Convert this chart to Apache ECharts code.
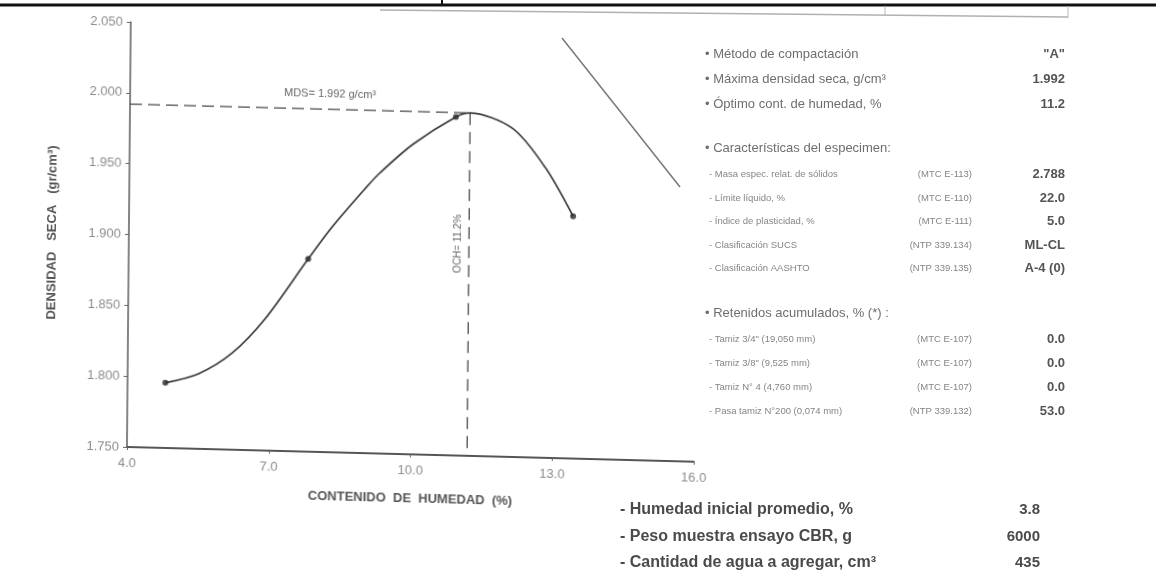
<!DOCTYPE html>
<html>
<head>
<meta charset="utf-8">
<script src="https://cdn.jsdelivr.net/npm/echarts@6/dist/echarts.min.js"></script>
<style>
  html, body { margin: 0; padding: 0; background: #fff; }
  #wrap { position: relative; width: 1156px; height: 571px; overflow: hidden; background: #fff; }
  #plot, #panel { position: absolute; left: 0; top: 0; width: 1156px; height: 571px; }
  /* the printed graph sits slightly askew on the sheet */
  #plot { transform-origin: 127px 447px; transform: matrix(1, 0.026, -0.009, 1, 0, 0); }
  #panel { pointer-events: none; }
</style>
</head>
<body>
<div id="wrap"><div id="plot"></div><div id="panel"></div></div>
<script>
// Proctor test: measured points
const moisture = [4.8, 7.8, 10.9, 13.4];
const dryDensity = [1.796, 1.886, 1.989, 1.921];

// fitted compaction curve
const curveMoisture = [4.8, 5.5, 6.2, 6.9, 7.8, 8.3, 9.0, 9.3, 10.0, 10.9, 11.2, 12.1, 12.8, 13.4];
const curveDensity = [1.796, 1.803, 1.818, 1.843, 1.886, 1.909, 1.937, 1.948, 1.969, 1.989, 1.992, 1.982, 1.955, 1.921];

// optimum
const MDS = 1.992;   // maximum dry density, g/cm3
const OCH = 11.2;    // optimum moisture content, %

// axes
const xMin = 4, xMax = 16, xStep = 3;
const yMin = 1.75, yMax = 2.05, yStep = 0.05;

// side panel
const summaryLabels = ['• Método de compactación', '• Máxima densidad seca, g/cm³', '• Óptimo cont. de humedad, %'];
const summaryValues = ['"A"', '1.992', '11.2'];
const specimenHeader = '• Características del especimen:';
const specimenLabels = ['- Masa espec. relat. de sólidos', '- Límite líquido, %', '- Índice de plasticidad, %', '- Clasificación SUCS', '- Clasificación AASHTO'];
const specimenCodes = ['(MTC E-113)', '(MTC E-110)', '(MTC E-111)', '(NTP 339.134)', '(NTP 339.135)'];
const specimenValues = ['2.788', '22.0', '5.0', 'ML-CL', 'A-4 (0)'];
const retainedHeader = '• Retenidos acumulados, % (*) :';
const retainedLabels = ['- Tamiz 3/4" (19,050 mm)', '- Tamiz 3/8" (9,525 mm)', '- Tamiz N° 4 (4,760 mm)', '- Pasa tamiz N°200 (0,074 mm)'];
const retainedCodes = ['(MTC E-107)', '(MTC E-107)', '(MTC E-107)', '(NTP 339.132)'];
const retainedValues = ['0.0', '0.0', '0.0', '53.0'];
const cbrLabels = ['- Humedad inicial promedio, %', '- Peso muestra ensayo CBR, g', '- Cantidad de agua a agregar, cm³'];
const cbrValues = ['3.8', '6000', '435'];

const FONT = '"Liberation Sans", Arial, sans-serif';
const zip = (a, b) => a.map((v, i) => [v, b[i]]);

const plot = echarts.init(document.getElementById('plot'), null, { renderer: 'canvas' });
plot.setOption({
  animation: false,
  backgroundColor: 'transparent',
  grid: { left: 127, top: 22, width: 567, height: 425, containLabel: false },
  xAxis: {
    type: 'value', min: xMin, max: xMax, interval: xStep,
    name: 'CONTENIDO  DE  HUMEDAD  (%)', nameLocation: 'middle', nameGap: 38,
    nameTextStyle: { fontFamily: FONT, fontSize: 13, fontWeight: 'bold', color: '#555' },
    axisLine: { lineStyle: { color: '#555', width: 1.8 } },
    axisTick: { show: true, length: 3, lineStyle: { color: '#666' } },
    axisLabel: { margin: 10, fontFamily: FONT, fontSize: 13, color: '#8c8c8c', formatter: v => v.toFixed(1) },
    splitLine: { show: false }
  },
  yAxis: {
    type: 'value', min: yMin, max: yMax, interval: yStep,
    name: 'DENSIDAD   SECA   (gr/cm³)', nameLocation: 'middle', nameGap: 70, nameRotate: 90,
    nameTextStyle: { fontFamily: FONT, fontSize: 13, fontWeight: 'bold', color: '#555' },
    axisLine: { show: true, lineStyle: { color: '#666', width: 1.6 } },
    axisTick: { show: true, length: 4, lineStyle: { color: '#666' } },
    axisLabel: { margin: 8, fontFamily: FONT, fontSize: 13, color: '#8c8c8c', formatter: v => v.toFixed(3) },
    splitLine: { show: false }
  },
  series: [
    {
      name: 'curva', type: 'line', data: zip(curveMoisture, curveDensity),
      smooth: 0.3, showSymbol: false, silent: true,
      lineStyle: { color: '#3c3c3c', width: 1.7 }, z: 3
    },
    {
      name: 'puntos', type: 'scatter', data: zip(moisture, dryDensity),
      symbol: 'circle', symbolSize: 6, itemStyle: { color: '#2a2a2a' }, z: 4
    },
    {
      name: 'MDS', type: 'line', data: [[xMin, MDS], [OCH, MDS]],
      showSymbol: false, silent: true,
      lineStyle: { color: '#4a4a4a', width: 1.3, type: [12, 6] }, z: 2
    },
    {
      name: 'OCH', type: 'line', data: [[OCH, MDS], [OCH, yMin]],
      showSymbol: false, silent: true,
      lineStyle: { color: '#4a4a4a', width: 1.3, type: [12, 7] }, z: 2
    }
  ]
});

// annotations tied to the optimum point
const pMds = plot.convertToPixel({ gridIndex: 0 }, [xMin, MDS]);
const pOch = plot.convertToPixel({ gridIndex: 0 }, [OCH, MDS]);
plot.setOption({
  graphic: [
    {
      type: 'text', x: pMds[0] + 200, y: pMds[1] - 15,
      style: { text: 'MDS= ' + MDS.toFixed(3) + ' g/cm³', font: '11px ' + FONT, fill: '#666', align: 'center', verticalAlign: 'middle' }
    },
    {
      type: 'text', x: pOch[0] - 11, y: pOch[1] + 131, rotation: Math.PI / 2,
      style: { text: 'OCH= ' + OCH.toFixed(1) + '%', font: '10px ' + FONT, fill: '#666', align: 'center', verticalAlign: 'middle' }
    }
  ]
});

// side panel and sheet rules
const panel = echarts.init(document.getElementById('panel'), null, { renderer: 'canvas' });
const g = [];
const txt = (x, y, text, font, fill, align) => g.push({
  type: 'text', x, y, style: { text, font: font + ' ' + FONT, fill, align: align || 'left', verticalAlign: 'middle' }
});
const VAL_X = 1065, CODE_X = 972, MAIN_X = 705, SUB_X = 709;

summaryLabels.forEach((t, i) => {
  const y = [54, 79, 104][i];
  txt(MAIN_X, y, t, '13px', '#6e6e6e');
  txt(VAL_X, y, summaryValues[i], 'bold 13px', '#555', 'right');
});
txt(MAIN_X, 148, specimenHeader, '13px', '#6e6e6e');
specimenLabels.forEach((t, i) => {
  const y = [174, 198, 221, 245, 268][i];
  txt(SUB_X, y, t, '9.5px', '#858585');
  txt(CODE_X, y, specimenCodes[i], '9.5px', '#858585', 'right');
  txt(VAL_X, y, specimenValues[i], 'bold 13px', '#555', 'right');
});
txt(MAIN_X, 313, retainedHeader, '13px', '#6e6e6e');
retainedLabels.forEach((t, i) => {
  const y = [339, 363, 387, 411][i];
  txt(SUB_X, y, t, '9.5px', '#858585');
  txt(CODE_X, y, retainedCodes[i], '9.5px', '#858585', 'right');
  txt(VAL_X, y, retainedValues[i], 'bold 13px', '#555', 'right');
});
cbrLabels.forEach((t, i) => {
  const y = [510, 537, 563][i];
  txt(620, y, t, 'bold 16px', '#4a4a4a');
  txt(1040, y, cbrValues[i], 'bold 15px', '#4a4a4a', 'right');
});

const seg = (x1, y1, x2, y2, stroke, lineWidth) => g.push({
  type: 'line', shape: { x1, y1, x2, y2 }, style: { stroke, lineWidth }
});
seg(0, 5, 1156, 5, '#111', 3);
seg(442, 0, 442, 5, '#111', 2);
seg(380, 10, 1068, 17, '#b0b0b0', 1.5);
seg(885, 6, 885, 15, '#b8b8b8', 1);
seg(1068, 6, 1068, 18, '#b8b8b8', 1);
seg(562, 38, 680, 187, '#777', 1.5);

panel.setOption({ animation: false, backgroundColor: 'transparent', graphic: g });
</script>
</body>
</html>
